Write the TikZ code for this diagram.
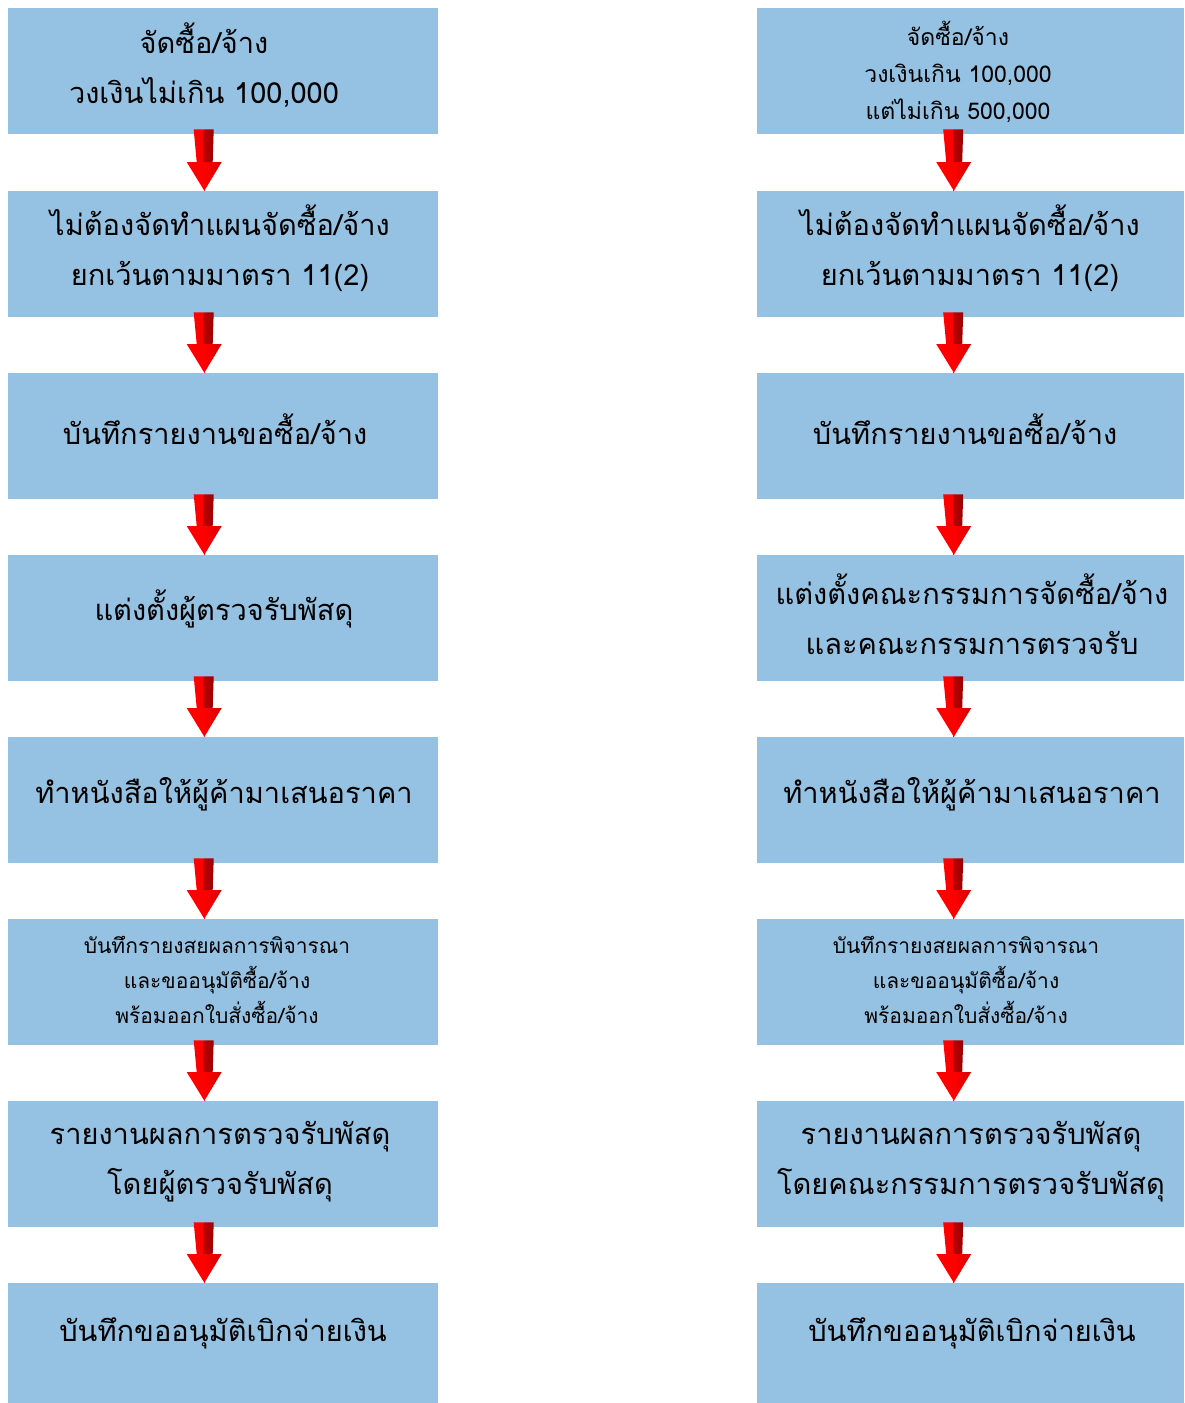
\documentclass[tikz,border=0pt]{standalone}
\usepackage{fontspec}
\setmainfont[Script=Thai]{Loma}
\usetikzlibrary{calc}
\definecolor{boxblue}{RGB}{149,194,226}
\definecolor{arrred}{RGB}{255,0,0}
\definecolor{arrdark}{RGB}{150,0,0}
\definecolor{arrmid}{RGB}{215,0,0}
\tikzset{
  box/.style={fill=boxblue, draw=none, anchor=north west, inner sep=0pt},
  big/.style={align=center, font=\fontsize{29}{50}\selectfont, inner sep=0pt},
  small/.style={align=center, font=\fontsize{23}{37}\selectfont, inner sep=0pt},
  smaller/.style={align=center, font=\fontsize{21}{35}\selectfont, inner sep=0pt},
}
% #1 from box, #2 to box, #3 x offset (pt) from box centre
\newcommand\redarrow[3]{%
  \fill[arrred] let \p1=(#1.south), \p2=(#2.north) in
    (\x1+#3-10.5pt,\y1+5pt) -- (\x1+#3-0.5pt,\y1+5pt) -- (\x1+#3-0.5pt,\y2+29pt) -- (\x1+#3-7.5pt,\y2+29pt) -- cycle;
  \shade[left color=arrdark!60!arrred, right color=arrdark] let \p1=(#1.south), \p2=(#2.north) in
    (\x1+#3-0.5pt,\y1+5pt) -- (\x1+#3+9.5pt,\y1+5pt) -- (\x1+#3+8.5pt,\y2+29pt) -- (\x1+#3-0.5pt,\y2+29pt) -- cycle;
  \fill[arrred] let \p1=(#1.south), \p2=(#2.north) in
    (\x1+#3-17.5pt,\y2+29pt) -- (\x1+#3+0.3pt,\y2+29pt) -- (\x1+#3+0.3pt,\y2) -- cycle;
  \shade[left color=arrred, right color=arrmid] let \p1=(#1.south), \p2=(#2.north) in
    (\x1+#3,\y2+29pt) -- (\x1+#3+17.5pt,\y2+29pt) -- (\x1+#3,\y2) -- cycle;%
}
\begin{document}
\begin{tikzpicture}[x=1pt,y=-1pt]
\useasboundingbox (0,0) rectangle (1184,1403);
% left column boxes
\node[box, minimum width=430pt, minimum height=126pt] (L1) at (8,8) {};
\node[box, minimum width=430pt, minimum height=126pt] (L2) at (8,191) {};
\node[box, minimum width=430pt, minimum height=126pt] (L3) at (8,373) {};
\node[box, minimum width=430pt, minimum height=126pt] (L4) at (8,555) {};
\node[box, minimum width=430pt, minimum height=126pt] (L5) at (8,737) {};
\node[box, minimum width=430pt, minimum height=126pt] (L6) at (8,919) {};
\node[box, minimum width=430pt, minimum height=126pt] (L7) at (8,1101) {};
\node[box, minimum width=430pt, minimum height=120pt] (L8) at (8,1283) {};
% right column boxes
\node[box, minimum width=427pt, minimum height=126pt] (R1) at (757,8) {};
\node[box, minimum width=427pt, minimum height=126pt] (R2) at (757,191) {};
\node[box, minimum width=427pt, minimum height=126pt] (R3) at (757,373) {};
\node[box, minimum width=427pt, minimum height=126pt] (R4) at (757,555) {};
\node[box, minimum width=427pt, minimum height=126pt] (R5) at (757,737) {};
\node[box, minimum width=427pt, minimum height=126pt] (R6) at (757,919) {};
\node[box, minimum width=427pt, minimum height=126pt] (R7) at (757,1101) {};
\node[box, minimum width=427pt, minimum height=120pt] (R8) at (757,1283) {};
% left texts
\node[big] (tL1) at (204,65) {จัดซื้อ/จ้าง\\วงเงินไม่เกิน 100,000};
\node[big] (tL2) at (220,248) {ไม่ต้องจัดทำแผนจัดซื้อ/จ้าง\\ยกเว้นตามมาตรา 11(2)};
\node[big] (tL3) at (215,429) {บันทึกรายงานขอซื้อ/จ้าง};
\node[big] (tL4) at (224,609) {แต่งตั้งผู้ตรวจรับพัสดุ};
\node[big] (tL5) at (224,794) {ทำหนังสือให้ผู้ค้ามาเสนอราคา};
\node[smaller] (tL6) at (217,980) {บันทึกรายงสยผลการพิจารณา\\และขออนุมัติซื้อ/จ้าง\\พร้อมออกใบสั่งซื้อ/จ้าง};
\node[big] (tL7) at (220,1162) {รายงานผลการตรวจรับพัสดุ\\โดยผู้ตรวจรับพัสดุ};
\node[big] (tL8) at (223,1333) {บันทึกขออนุมัติเบิกจ่ายเงิน};
% right texts
\node[small] (tR1) at (958,72) {จัดซื้อ/จ้าง\\วงเงินเกิน 100,000\\แต่ไม่เกิน 500,000};
\node[big] (tR2) at (970,248) {ไม่ต้องจัดทำแผนจัดซื้อ/จ้าง\\ยกเว้นตามมาตรา 11(2)};
\node[big] (tR3) at (965,429) {บันทึกรายงานขอซื้อ/จ้าง};
\node[big] (tR4) at (972,614) {แต่งตั้งคณะกรรมการจัดซื้อ/จ้าง\\และคณะกรรมการตรวจรับ};
\node[big] (tR5) at (972,794) {ทำหนังสือให้ผู้ค้ามาเสนอราคา};
\node[smaller] (tR6) at (966,980) {บันทึกรายงสยผลการพิจารณา\\และขออนุมัติซื้อ/จ้าง\\พร้อมออกใบสั่งซื้อ/จ้าง};
\node[big] (tR7) at (971,1162) {รายงานผลการตรวจรับพัสดุ\\โดยคณะกรรมการตรวจรับพัสดุ};
\node[big] (tR8) at (972,1333) {บันทึกขออนุมัติเบิกจ่ายเงิน};
% arrows
\redarrow{L1}{L2}{-19pt}
\redarrow{L2}{L3}{-19pt}
\redarrow{L3}{L4}{-19pt}
\redarrow{L4}{L5}{-19pt}
\redarrow{L5}{L6}{-19pt}
\redarrow{L6}{L7}{-19pt}
\redarrow{L7}{L8}{-19pt}
\redarrow{R1}{R2}{-17pt}
\redarrow{R2}{R3}{-17pt}
\redarrow{R3}{R4}{-17pt}
\redarrow{R4}{R5}{-17pt}
\redarrow{R5}{R6}{-17pt}
\redarrow{R6}{R7}{-17pt}
\redarrow{R7}{R8}{-17pt}
\end{tikzpicture}
\end{document}
